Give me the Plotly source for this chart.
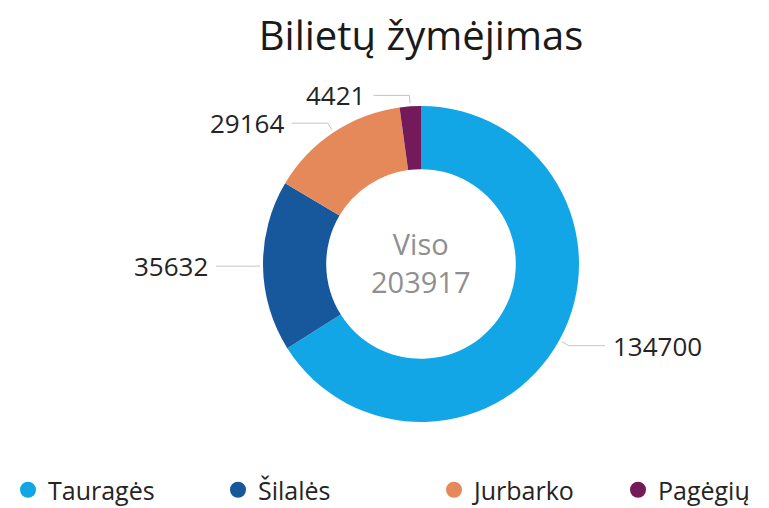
import math
import plotly.graph_objects as go

labels = ["Tauragės", "Šilalės", "Jurbarko", "Pagėgių"]
values = [134700, 35632, 29164, 4421]
colors = ["#12A6E6", "#17589C", "#E6895A", "#74195A"]
title_text = "Bilietų žymėjimas"
center_caption = "Viso"

# page has an 8px body margin, so the figure is drawn a little smaller
OFF = 8
W, H = 761, 500
cx, cy, R = 421, 264, 158  # donut centre / radius in page pixels


def px(x, y):
    return (x - OFF) / W, 1 - (y - OFF) / H


fig = go.Figure()
d0, d1 = px(cx - R, cy + R), px(cx + R, cy - R)
fig.add_trace(go.Pie(
    labels=labels, values=values, sort=False, direction="clockwise", rotation=0,
    hole=0.6, marker=dict(colors=colors, line=dict(width=0)),
    textinfo="none", hoverinfo="label+value", showlegend=False,
    domain=dict(x=[d0[0], d1[0]], y=[d0[1], d1[1]]),
))

# legend entries as round markers, one legend box per entry
legend_x = [28, 238, 454, 638]
legends = {}
for i, (lab, col) in enumerate(zip(labels, colors)):
    key = "legend" if i == 0 else f"legend{i + 1}"
    fig.add_trace(go.Scatter(x=[None], y=[None], mode="markers", name=lab, legend=key,
                             marker=dict(color=col, size=16, symbol="circle")))
    legends[key] = dict(orientation="h", x=px(legend_x[i] - 20, 0)[0], xanchor="left",
                        y=px(0, 490)[1], yanchor="middle", bgcolor="rgba(0,0,0,0)",
                        font=dict(size=25, color="#252423"), itemsizing="trace")

# outside labels with leader lines, positioned from slice angles
total = sum(values)
cum = 0
shapes, annos = [], []
for v in values:
    theta = 2 * math.pi * (cum + v / 2) / total
    cum += v
    s, c = math.sin(theta), math.cos(theta)
    x0, y0 = cx + (R + 3) * s, cy - (R + 3) * c
    x1, y1 = cx + (R + 11) * s, cy - (R + 11) * c
    side = 1 if s >= 0 else -1
    x2 = x1 + side * 36
    p0, p1, p2 = px(x0, y0), px(x1, y1), px(x2, y1)
    shapes.append(dict(type="path", xref="paper", yref="paper",
                       path=f"M{p0[0]},{p0[1]} L{p1[0]},{p1[1]} L{p2[0]},{p2[1]}",
                       line=dict(color="#c4c4c4", width=1)))
    annos.append(dict(x=px(x2 + side * 6, y1)[0], y=p2[1], xref="paper", yref="paper",
                      text=str(v), showarrow=False,
                      xanchor="left" if side > 0 else "right", yanchor="middle",
                      font=dict(size=26, color="#252423")))

pc = px(cx, cy - 2)
annos.append(dict(x=pc[0], y=pc[1], xref="paper", yref="paper", showarrow=False,
                  text=f"{center_caption}<br>{total}", align="center",
                  font=dict(size=29, color="#8f8f8f")))

fig.update_layout(
    width=W, height=H,
    margin=dict(l=0, r=0, t=0, b=0, autoexpand=False),
    paper_bgcolor="white", plot_bgcolor="white",
    font=dict(family="Open Sans, sans-serif"),
    title=dict(text=title_text, x=px(cx, 0)[0], xanchor="center", y=px(0, 36)[1], yanchor="middle",
               font=dict(size=40, color="#1a1a1a")),
    xaxis=dict(visible=False), yaxis=dict(visible=False),
    shapes=shapes, annotations=annos,
    **legends,
)

fig.write_html("out.html")
